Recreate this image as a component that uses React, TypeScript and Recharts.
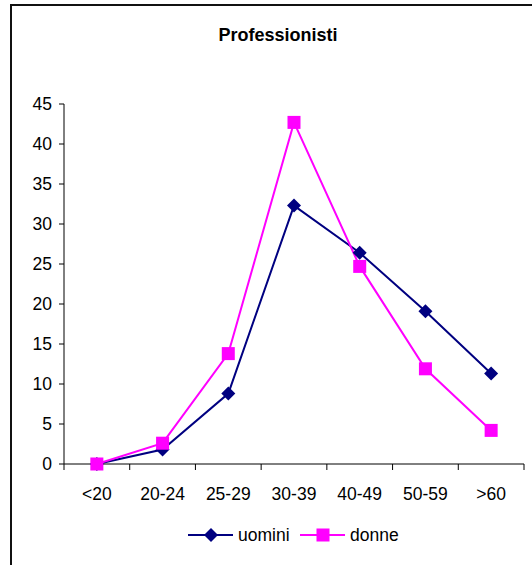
import React from 'react';
import { LineChart, Line, XAxis, YAxis, Legend } from 'recharts';

// Fasce d'età e percentuali per sesso
const ageGroups = ['<20', '20-24', '25-29', '30-39', '40-49', '50-59', '>60'];
const uomini = [0, 1.8, 8.8, 32.3, 26.4, 19.1, 11.3];
const donne = [0, 2.6, 13.8, 42.7, 24.7, 11.9, 4.2];
const seriesOrder = ['uomini', 'donne'];
const yTicks = [0, 5, 10, 15, 20, 25, 30, 35, 40, 45];

const data = ageGroups.map((g, i) => ({ fascia: g, uomini: uomini[i], donne: donne[i] }));

const W = 532;
const H = 565;
const MARGIN = { top: 104, right: 8, bottom: 71, left: 0 };
const Y_AXIS_W = 64;
const PLOT_W = W - MARGIN.left - MARGIN.right - Y_AXIS_W;
const NAVY = '#000080';
const MAGENTA = '#ff00ff';
const FONT = 'Arial, "Liberation Sans", sans-serif';
const FS = 17.5;

const Diamond = (props: any) => {
  const { cx, cy } = props;
  if (cx == null || cy == null) return null;
  const r = 7;
  return (
    <polygon
      points={`${cx},${cy - r} ${cx + r},${cy} ${cx},${cy + r} ${cx - r},${cy}`}
      fill={NAVY}
    />
  );
};

const Square = (props: any) => {
  const { cx, cy } = props;
  if (cx == null || cy == null) return null;
  const s = 13;
  return <rect x={cx - s / 2} y={cy - s / 2} width={s} height={s} fill={MAGENTA} />;
};

// Excel-style category axis: tick marks sit between the categories
const AgeTick = (props: any) => {
  const { x, y, payload, index, visibleTicksCount } = props;
  const half = PLOT_W / ageGroups.length / 2;
  return (
    <g>
      <line x1={x - half} y1={y} x2={x - half} y2={y + 6} stroke="#000" />
      {index === visibleTicksCount - 1 && (
        <line x1={x + half} y1={y} x2={x + half} y2={y + 6} stroke="#000" />
      )}
      <text x={x} y={y + 36} textAnchor="middle" fill="#000" fontSize={FS} fontFamily={FONT}>
        {payload.value}
      </text>
    </g>
  );
};

const renderLegend = (props: any) => {
  const items = [...(props.payload || [])].sort(
    (a: any, b: any) => seriesOrder.indexOf(a.dataKey) - seriesOrder.indexOf(b.dataKey)
  );
  return (
    <svg width={220} height={24}>
      {items.map((entry: any, i: number) => {
        const x0 = i * 112;
        const isMen = entry.dataKey === 'uomini';
        const color = isMen ? NAVY : MAGENTA;
        return (
          <g key={entry.value}>
            <line x1={x0} y1={12} x2={x0 + 45} y2={12} stroke={color} strokeWidth={2} />
            {isMen ? <Diamond cx={x0 + 23} cy={12} /> : <Square cx={x0 + 23} cy={12} />}
            <text x={x0 + 50} y={18} fill="#000" fontSize={FS} fontFamily={FONT}>
              {entry.value}
            </text>
          </g>
        );
      })}
    </svg>
  );
};

export default function App() {
  return (
    <div style={{ position: 'absolute', left: 0, top: 0, width: W, height: H, background: '#fff', overflow: 'hidden' }}>
      <div
        style={{
          position: 'absolute',
          left: 10,
          top: 4,
          width: 700,
          height: 700,
          borderLeft: '2px solid #111',
          borderTop: '2px solid #111',
        }}
      />
      <LineChart width={W} height={H} data={data} margin={MARGIN} style={{ fontFamily: FONT }}>
        <XAxis
          dataKey="fascia"
          scale="band"
          stroke="#000"
          tickLine={false}
          tickSize={0}
          tickMargin={0}
          height={30}
          interval={0}
          tick={<AgeTick />}
        />
        <YAxis
          width={Y_AXIS_W}
          domain={[0, 45]}
          ticks={yTicks}
          interval={0}
          stroke="#000"
          tickSize={5}
          tickMargin={7}
          tick={{ fill: '#000', fontSize: FS, fontFamily: FONT }}
        />
        <Legend
          align="center"
          verticalAlign="middle"
          content={renderLegend}
          wrapperStyle={{ left: 188, top: 523, width: 220, height: 24 }}
        />
        <Line
          dataKey="uomini"
          name="uomini"
          stroke={NAVY}
          strokeWidth={2}
          dot={<Diamond />}
          activeDot={false}
          isAnimationActive={false}
        />
        <Line
          dataKey="donne"
          name="donne"
          stroke={MAGENTA}
          strokeWidth={2}
          dot={<Square />}
          activeDot={false}
          isAnimationActive={false}
        />
      </LineChart>
      <svg width={W} height={60} style={{ position: 'absolute', left: 0, top: 0, pointerEvents: 'none' }}>
        <text x={278} y={41} textAnchor="middle" fontWeight="bold" fontSize={18} fontFamily={FONT} fill="#000">
          Professionisti
        </text>
      </svg>
    </div>
  );
}
